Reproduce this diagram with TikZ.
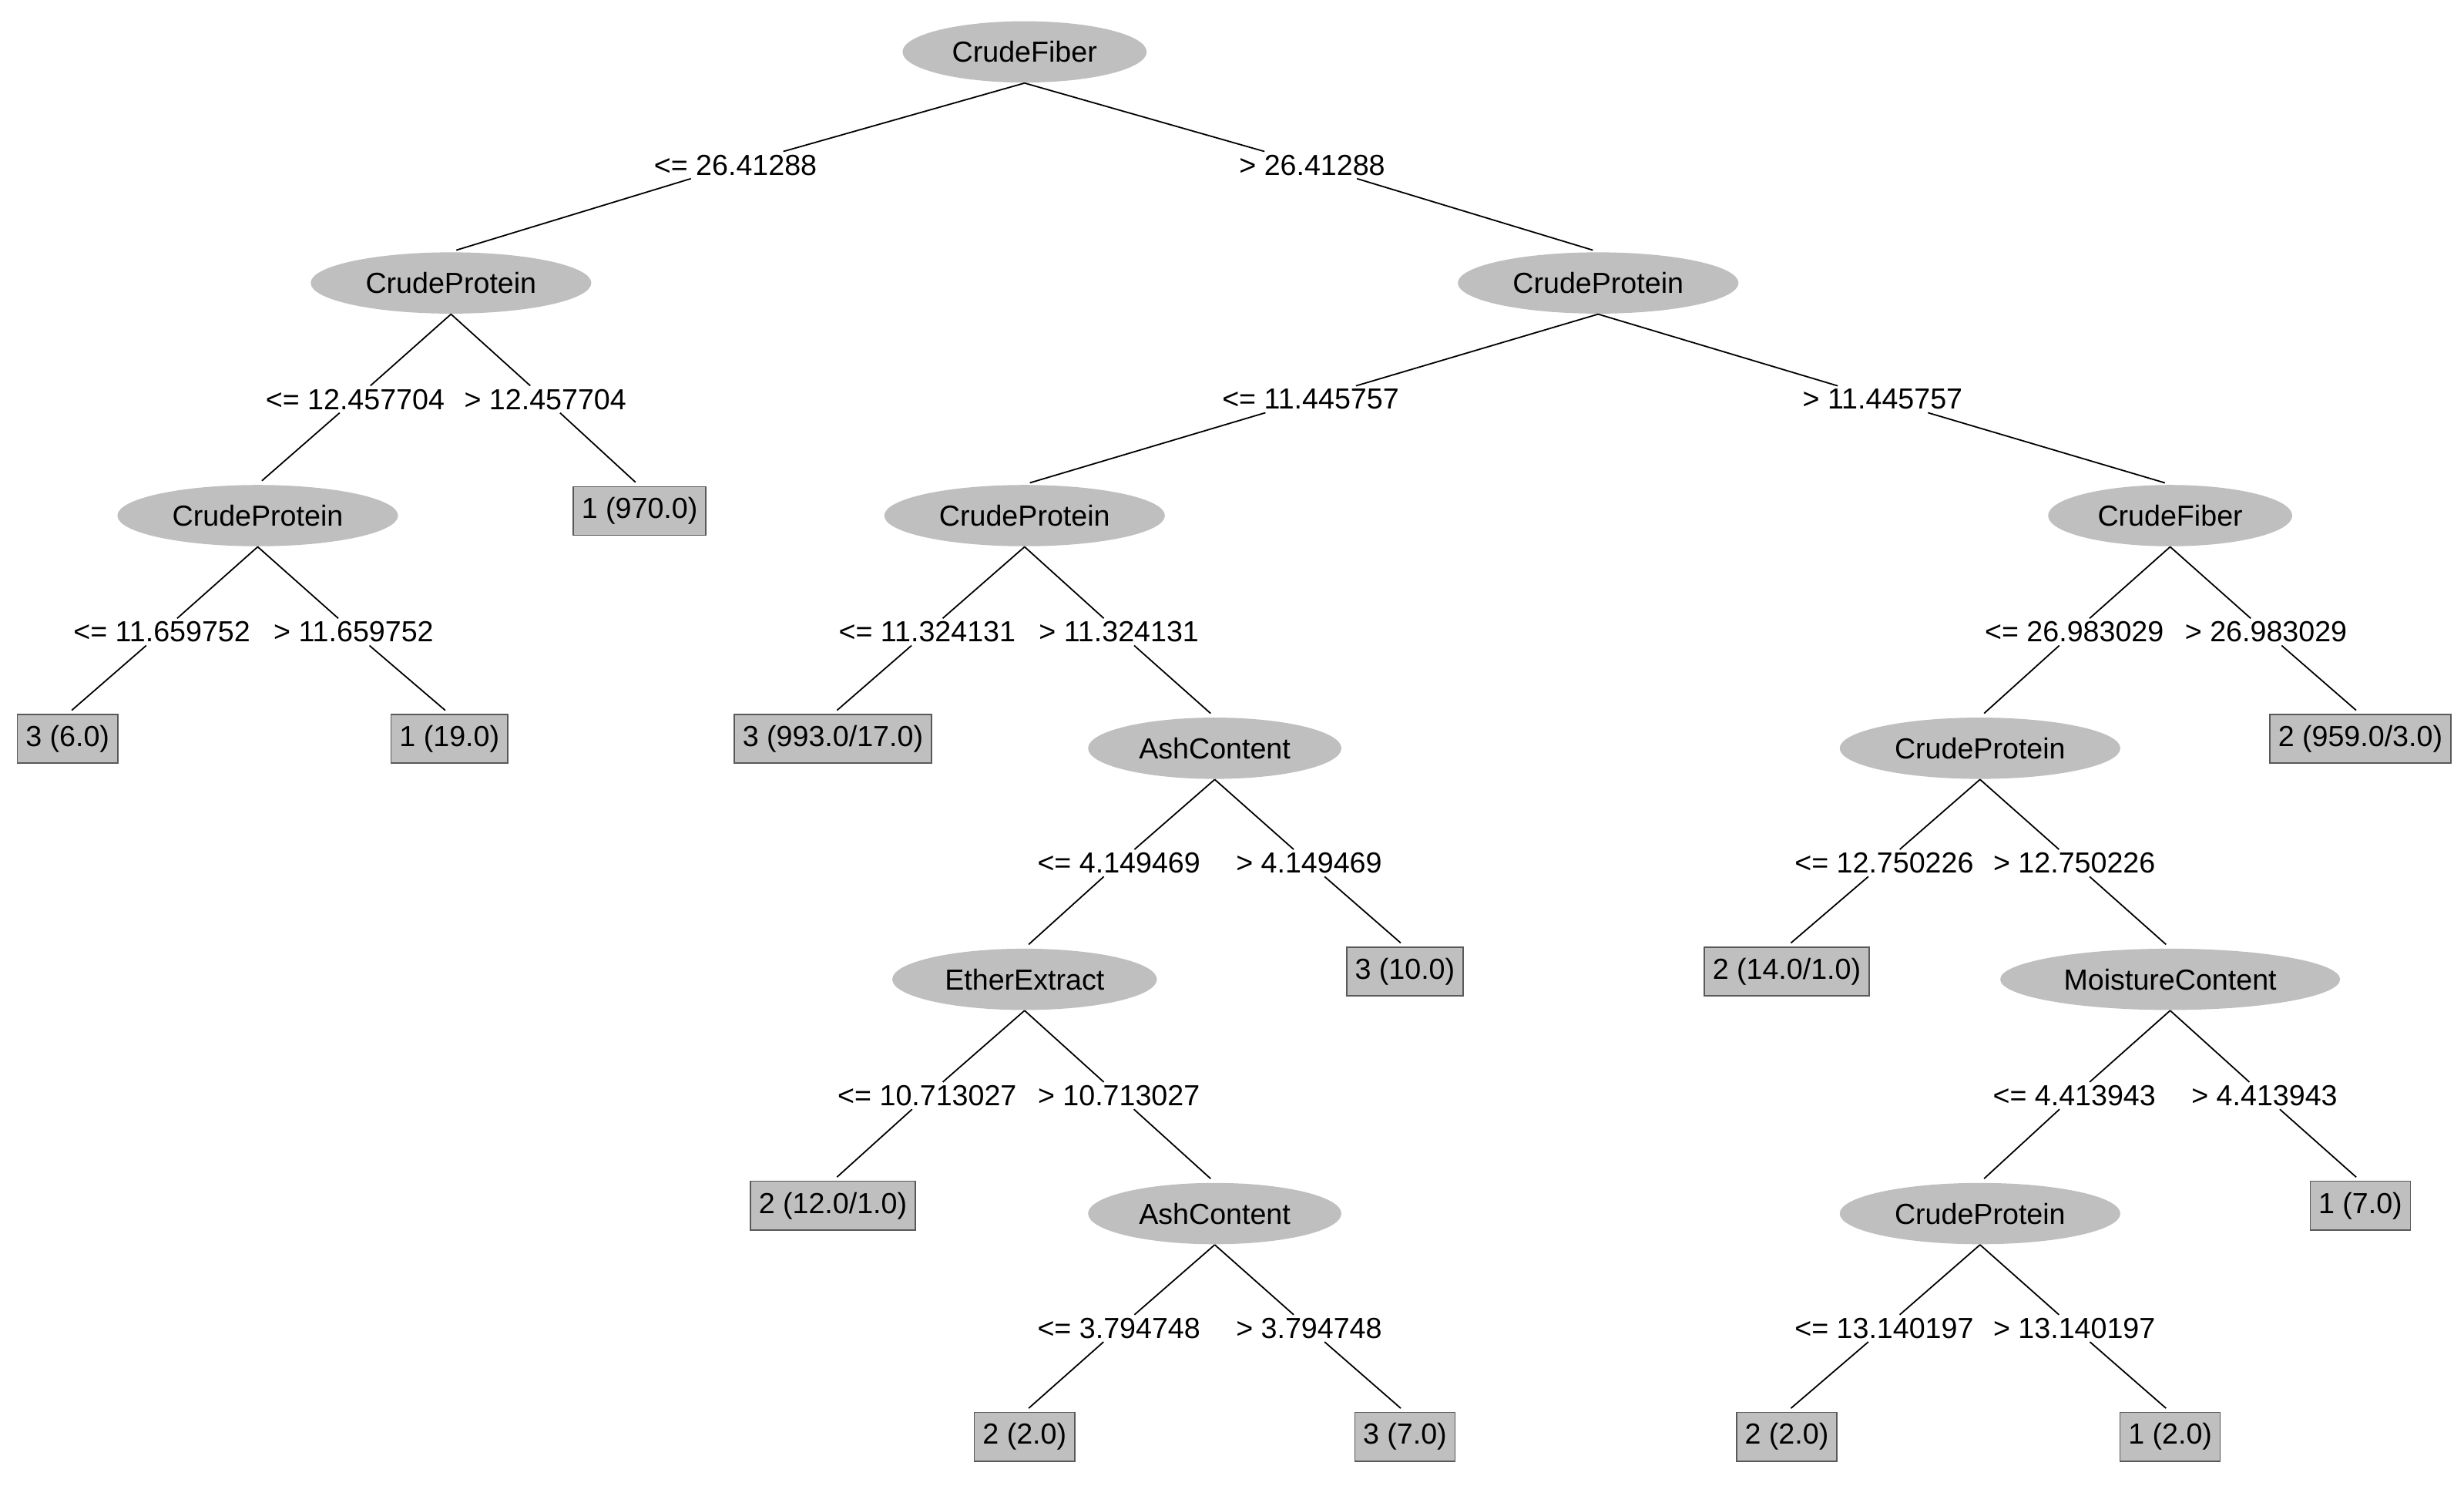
\documentclass[tikz,border=0pt]{standalone}
\usepackage{fontspec}
\setmainfont{Liberation Sans}
\tikzset{
  attr/.style={ellipse, fill=gray!50, inner xsep=5pt, inner ysep=2pt, minimum height=0.78cm},
  leaf/.style={rectangle, fill=gray!50, draw=gray!70!black, inner sep=3pt, minimum height=0.62cm},
  cond/.style={inner sep=1pt},
  edge/.style={draw, line width=0.5pt}
}
\usetikzlibrary{shapes.geometric}
\begin{document}
\begin{tikzpicture}[x=0.02cm, y=-0.02cm, font=\fontsize{10.5}{12}\selectfont]
        \useasboundingbox (0,0) rectangle (1568,951.6);
        % attribute nodes
        \node[attr] (r) at (652,33) {CrudeFiber};
        \node[attr] (a) at (287,180) {CrudeProtein};
        \node[attr] (b) at (1017,180) {CrudeProtein};
        \node[attr] (aa) at (164,328) {CrudeProtein};
        \node[attr] (ba) at (652,328) {CrudeProtein};
        \node[attr] (bb) at (1381,328) {CrudeFiber};
        \node[attr] (bab) at (773,476) {AshContent};
        \node[attr] (bba) at (1260,476) {CrudeProtein};
        \node[attr] (baba) at (652,623) {EtherExtract};
        \node[attr] (bbab) at (1381,623) {MoistureContent};
        \node[attr] (babab) at (773,772) {AshContent};
        \node[attr] (bbaba) at (1260,772) {CrudeProtein};

        % leaves
        \node[leaf] (ab) at (407,325) {1 (970.0)};
        \node[leaf] (aaa) at (43,470) {3 (6.0)};
        \node[leaf] (aab) at (286,470) {1 (19.0)};
        \node[leaf] (baa) at (530,470) {3 (993.0/17.0)};
        \node[leaf] (bbb) at (1502,470) {2 (959.0/3.0)};
        \node[leaf] (babb) at (894,618) {3 (10.0)};
        \node[leaf] (bbaa) at (1137,618) {2 (14.0/1.0)};
        \node[leaf] (babaa) at (530,767) {2 (12.0/1.0)};
        \node[leaf] (bbabb) at (1502,767) {1 (7.0)};
        \node[leaf] (bababa) at (652,914) {2 (2.0)};
        \node[leaf] (bababb) at (894,914) {3 (7.0)};
        \node[leaf] (bbabaa) at (1137,914) {2 (2.0)};
        \node[leaf] (bbabab) at (1381,914) {1 (2.0)};

        % conditions
        \node[cond] (c1) at (468,105) {<= 26.41288};
        \node[cond] (c2) at (835,105) {> 26.41288};
        \node[cond] (c3) at (226,254) {<= 12.457704};
        \node[cond] (c4) at (347,254) {> 12.457704};
        \node[cond] (c5) at (834,254) {<= 11.445757};
        \node[cond] (c6) at (1198,254) {> 11.445757};
        \node[cond] (c7) at (103,402) {<= 11.659752};
        \node[cond] (c8) at (225,402) {> 11.659752};
        \node[cond] (c9) at (590,402) {<= 11.324131};
        \node[cond] (c10) at (712,402) {> 11.324131};
        \node[cond] (c11) at (1320,402) {<= 26.983029};
        \node[cond] (c12) at (1442,402) {> 26.983029};
        \node[cond] (c13) at (712,549) {<= 4.149469};
        \node[cond] (c14) at (833,549) {> 4.149469};
        \node[cond] (c15) at (1199,549) {<= 12.750226};
        \node[cond] (c16) at (1320,549) {> 12.750226};
        \node[cond] (c17) at (590,697) {<= 10.713027};
        \node[cond] (c18) at (712,697) {> 10.713027};
        \node[cond] (c19) at (1320,697) {<= 4.413943};
        \node[cond] (c20) at (1441,697) {> 4.413943};
        \node[cond] (c21) at (712,845) {<= 3.794748};
        \node[cond] (c22) at (833,845) {> 3.794748};
        \node[cond] (c23) at (1199,845) {<= 13.140197};
        \node[cond] (c24) at (1320,845) {> 13.140197};

        % edges
        \foreach \p/\c/\k in {r/c1/a, r/c2/b, a/c3/aa, a/c4/ab, b/c5/ba, b/c6/bb,
            aa/c7/aaa, aa/c8/aab, ba/c9/baa, ba/c10/bab, bb/c11/bba, bb/c12/bbb,
            bab/c13/baba, bab/c14/babb, bba/c15/bbaa, bba/c16/bbab,
            baba/c17/babaa, baba/c18/babab, bbab/c19/bbaba, bbab/c20/bbabb,
            babab/c21/bababa, babab/c22/bababb, bbaba/c23/bbabaa, bbaba/c24/bbabab}
            \draw[edge, shorten >=2pt] (\p.south) -- (\c) (\c) -- (\k.north);
\end{tikzpicture}
\end{document}
